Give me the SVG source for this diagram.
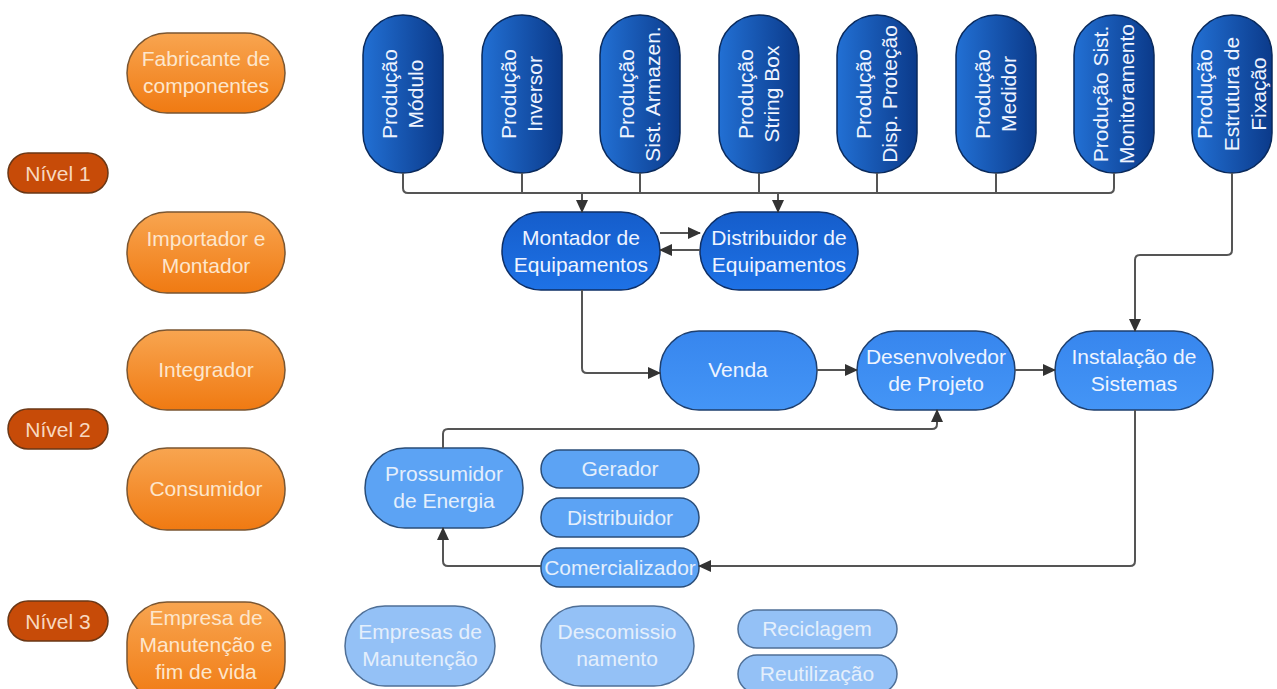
<svg xmlns="http://www.w3.org/2000/svg" width="1277" height="689" viewBox="0 0 1277 689">
<defs>
<linearGradient id="gOr" x1="0" y1="0" x2="0" y2="1"><stop offset="0" stop-color="#F8A550"/><stop offset="1" stop-color="#F07A12"/></linearGradient>
<linearGradient id="gDk" x1="0" y1="0" x2="1" y2="0"><stop offset="0" stop-color="#2270D4"/><stop offset="1" stop-color="#0B3A8A"/></linearGradient>
<linearGradient id="gMd" x1="0" y1="0" x2="0" y2="1"><stop offset="0" stop-color="#155DCB"/><stop offset="1" stop-color="#1E72E6"/></linearGradient>
<linearGradient id="gLt" x1="0" y1="0" x2="0" y2="1"><stop offset="0" stop-color="#3786EE"/><stop offset="1" stop-color="#4495F6"/></linearGradient>
<marker id="ar" markerUnits="userSpaceOnUse" markerWidth="13" markerHeight="12" refX="12" refY="6" orient="auto"><path d="M0,0 L13,6 L0,12 Z" fill="#333"/></marker>
</defs>
<style>
.or{fill:url(#gOr);stroke:#7A5632;stroke-width:1.5}
.nv{fill:#C74B08;stroke:#6A3716;stroke-width:1.5}
.dk{fill:url(#gDk);stroke:#0A2A5C;stroke-width:1.5}
.md{fill:url(#gMd);stroke:#0E2F66;stroke-width:1.5}
.lt{fill:url(#gLt);stroke:#1E3F6E;stroke-width:1.5}
.pl{fill:#5CA3F4;stroke:#2A4D78;stroke-width:1.5}
.bt{fill:#94C1F6;stroke:#4F6F96;stroke-width:1.5}
text{font-family:"Liberation Sans",Arial,sans-serif;text-anchor:middle}
.to{fill:#FDE6CC;font-size:21px}
.tn{fill:#F8D8C0;font-size:21px}
.tw{fill:#EEF4FF;font-size:21px}
.tb{fill:#E4EFFC;font-size:21px}
.cn{fill:none;stroke:#555;stroke-width:2}
</style>

<g id="fabricante"><rect class="or" x="127" y="33" width="158" height="80" rx="40"/><text class="to" x="206" y="66">Fabricante de</text><text class="to" x="206" y="93">componentes</text></g>
<g id="nivel1"><rect class="nv" x="8" y="153" width="100" height="40" rx="20"/><text class="tn" x="58" y="181">Nível 1</text></g>
<g id="importador"><rect class="or" x="127" y="212" width="158" height="81" rx="40"/><text class="to" x="206" y="246">Importador e</text><text class="to" x="206" y="273">Montador</text></g>
<g id="integrador"><rect class="or" x="127" y="330" width="158" height="80" rx="40"/><text class="to" x="206" y="377">Integrador</text></g>
<g id="nivel2"><rect class="nv" x="8" y="409" width="100" height="40" rx="20"/><text class="tn" x="58" y="437">Nível 2</text></g>
<g id="consumidor"><rect class="or" x="127" y="448" width="158" height="82" rx="40"/><text class="to" x="206" y="496">Consumidor</text></g>
<g id="nivel3"><rect class="nv" x="8" y="601" width="100" height="40" rx="20"/><text class="tn" x="58" y="629">Nível 3</text></g>
<g id="empresa"><rect class="or" x="127" y="602" width="158" height="100" rx="40"/><text class="to" x="206" y="625">Empresa de</text><text class="to" x="206" y="652">Manutenção e</text><text class="to" x="206" y="679">fim de vida</text></g>

<g id="p-modulo"><rect class="dk" x="363" y="15" width="80" height="158" rx="40"/><g transform="translate(403,94) rotate(-90)"><text class="tw" x="0" y="-6">Produção</text><text class="tw" x="0" y="20">Módulo</text></g></g>
<g id="p-inversor"><rect class="dk" x="482" y="15" width="80" height="158" rx="40"/><g transform="translate(522,94) rotate(-90)"><text class="tw" x="0" y="-6">Produção</text><text class="tw" x="0" y="20">Inversor</text></g></g>
<g id="p-armazen"><rect class="dk" x="600" y="15" width="80" height="158" rx="40"/><g transform="translate(640,94) rotate(-90)"><text class="tw" x="0" y="-6">Produção</text><text class="tw" x="0" y="20">Sist. Armazen.</text></g></g>
<g id="p-stringbox"><rect class="dk" x="719" y="15" width="80" height="158" rx="40"/><g transform="translate(759,94) rotate(-90)"><text class="tw" x="0" y="-6">Produção</text><text class="tw" x="0" y="20">String Box</text></g></g>
<g id="p-protecao"><rect class="dk" x="837" y="15" width="80" height="158" rx="40"/><g transform="translate(877,94) rotate(-90)"><text class="tw" x="0" y="-6">Produção</text><text class="tw" x="0" y="20">Disp. Proteção</text></g></g>
<g id="p-medidor"><rect class="dk" x="956" y="15" width="80" height="158" rx="40"/><g transform="translate(996,94) rotate(-90)"><text class="tw" x="0" y="-6">Produção</text><text class="tw" x="0" y="20">Medidor</text></g></g>
<g id="p-monitor"><rect class="dk" x="1074" y="15" width="80" height="158" rx="40"/><g transform="translate(1114,94) rotate(-90)"><text class="tw" x="0" y="-6">Produção Sist.</text><text class="tw" x="0" y="20">Monitoramento</text></g></g>
<g id="p-estrutura"><rect class="dk" x="1192" y="15" width="80" height="158" rx="40"/><g transform="translate(1232,94) rotate(-90)"><text class="tw" x="0" y="-20">Produção</text><text class="tw" x="0" y="7">Estrutura de</text><text class="tw" x="0" y="34">Fixação</text></g></g>

<g id="montador"><rect class="md" x="502" y="212" width="158" height="78" rx="39"/><text class="tw" x="581" y="245">Montador de</text><text class="tw" x="581" y="272">Equipamentos</text></g>
<g id="distribuidor-eq"><rect class="md" x="700" y="212" width="158" height="78" rx="39"/><text class="tw" x="779" y="245">Distribuidor de</text><text class="tw" x="779" y="272">Equipamentos</text></g>

<g id="venda"><rect class="lt" x="660" y="331" width="157" height="79" rx="39"/><text class="tw" x="738" y="377">Venda</text></g>
<g id="desenvolvedor"><rect class="lt" x="857" y="331" width="158" height="79" rx="39"/><text class="tw" x="936" y="364">Desenvolvedor</text><text class="tw" x="936" y="391">de Projeto</text></g>
<g id="instalacao"><rect class="lt" x="1055" y="331" width="158" height="79" rx="39"/><text class="tw" x="1134" y="364">Instalação de</text><text class="tw" x="1134" y="391">Sistemas</text></g>

<g id="prossumidor"><rect class="pl" x="365" y="448" width="158" height="80" rx="40"/><text class="tb" x="444" y="481">Prossumidor</text><text class="tb" x="444" y="508">de Energia</text></g>
<g id="gerador"><rect class="pl" x="541" y="450" width="158" height="38" rx="19"/><text class="tb" x="620" y="476">Gerador</text></g>
<g id="distribuidor"><rect class="pl" x="541" y="498" width="158" height="39" rx="19"/><text class="tb" x="620" y="525">Distribuidor</text></g>
<g id="comercializador"><rect class="pl" x="541" y="548" width="158" height="39" rx="19"/><text class="tb" x="620" y="575">Comercializador</text></g>

<g id="manutencao"><rect class="bt" x="345" y="606" width="150" height="80" rx="40"/><text class="tb" x="420" y="639">Empresas de</text><text class="tb" x="420" y="666">Manutenção</text></g>
<g id="descomissionamento"><rect class="bt" x="541" y="606" width="153" height="80" rx="40"/><text class="tb" x="617" y="639">Descomissio</text><text class="tb" x="617" y="666">namento</text></g>
<g id="reciclagem"><rect class="bt" x="738" y="610" width="159" height="38" rx="19"/><text class="tb" x="817" y="636">Reciclagem</text></g>
<g id="reutilizacao"><rect class="bt" x="738" y="655" width="159" height="38" rx="19"/><text class="tb" x="817" y="681">Reutilização</text></g>

<g id="connectors">
<path class="cn" d="M403,173 V188 Q403,193 408,193 H1109 Q1114,193 1114,188 V173"/>
<path class="cn" d="M522,173 V193 M640,173 V193 M759,173 V193 M877,173 V193 M996,173 V193"/>
<path class="cn" d="M582,193 V212" marker-end="url(#ar)"/>
<path class="cn" d="M778,193 V212" marker-end="url(#ar)"/>
<path class="cn" d="M660,233 H700" marker-end="url(#ar)"/>
<path class="cn" d="M700,250 H660" marker-end="url(#ar)"/>
<path class="cn" d="M582,290 V368 Q582,373 587,373 H660" marker-end="url(#ar)"/>
<path class="cn" d="M817,370 H857" marker-end="url(#ar)"/>
<path class="cn" d="M1015,370 H1055" marker-end="url(#ar)"/>
<path class="cn" d="M1232,173 V250 Q1232,255 1227,255 H1140 Q1135,255 1135,260 V331" marker-end="url(#ar)"/>
<path class="cn" d="M1135,410 V561 Q1135,566 1130,566 H699" marker-end="url(#ar)"/>
<path class="cn" d="M541,566 H448 Q443,566 443,561 V528" marker-end="url(#ar)"/>
<path class="cn" d="M443,448 V434 Q443,429 448,429 H932 Q937,429 937,424 V410" marker-end="url(#ar)"/>
</g>
</svg>
